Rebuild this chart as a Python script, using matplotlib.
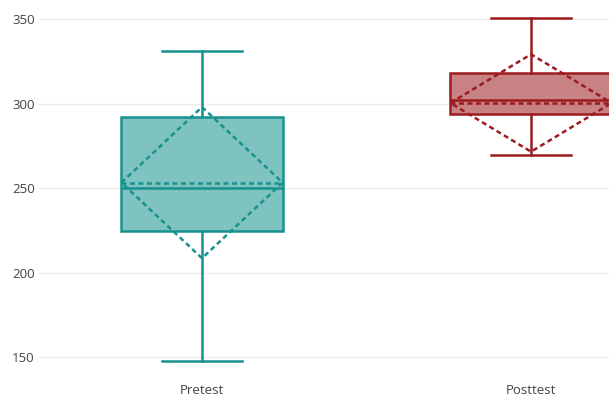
import matplotlib
matplotlib.use("Agg")
import matplotlib.pyplot as plt

# summary statistics per group
groups = ["Pretest", "Posttest"]
whisker_low = [148, 270]
q1 = [225, 294]
median = [250, 302]
q3 = [292, 318]
whisker_high = [331, 351]
mean = [253.4, 300.5]
sd = [44.7, 28.8]

colors = ["#17928e", "#9b1b1f"]
box_width = 0.49

plt.rcParams["font.family"] = ["Open Sans", "DejaVu Sans"]

fig = plt.figure(figsize=(6.09, 3.98), dpi=100)
ax = fig.add_axes([39 / 609, 26 / 398, 1 - 39 / 609, 1 - 26 / 398])

stats = []
for i, name in enumerate(groups):
    stats.append({
        "label": name,
        "whislo": whisker_low[i],
        "q1": q1[i],
        "med": median[i],
        "q3": q3[i],
        "whishi": whisker_high[i],
        "fliers": [],
    })

lw = 1.8
dash = (0, (2, 1.4))
positions = list(range(len(groups)))
for i, st in enumerate(stats):
    c = colors[i]
    ax.bxp([st], positions=[positions[i]], widths=box_width, patch_artist=True,
           showfliers=False,
           boxprops=dict(facecolor=c + "8c", edgecolor=c, linewidth=lw),
           medianprops=dict(color=c, linewidth=lw),
           whiskerprops=dict(color=c, linewidth=lw),
           capprops=dict(color=c, linewidth=lw),
           capwidths=box_width / 2)

    # mean line and +/- sd diamond
    x = positions[i]
    hw = box_width / 2
    m, s = mean[i], sd[i]
    ax.plot([x - hw, x + hw], [m, m], color=c, linewidth=lw,
            linestyle=dash, zorder=4)
    ax.plot([x - hw, x, x + hw, x, x - hw], [m, m + s, m, m - s, m],
            color=c, linewidth=lw, linestyle=dash, zorder=4)

ax.set_xlim(-0.4954, 1.237)
ax.set_ylim(141.4, 361.4)
ax.set_yticks([150, 200, 250, 300, 350])
ax.set_xticks(positions)
ax.set_xticklabels(groups)
ax.grid(axis="y", color="#eeeeee", linewidth=1)
ax.set_axisbelow(True)
for sp in ax.spines.values():
    sp.set_visible(False)
ax.tick_params(length=0, labelsize=9.5, colors="#444444")
ax.tick_params(axis="y", pad=3)
ax.tick_params(axis="x", pad=9)

fig.savefig("out.png", dpi=100)
